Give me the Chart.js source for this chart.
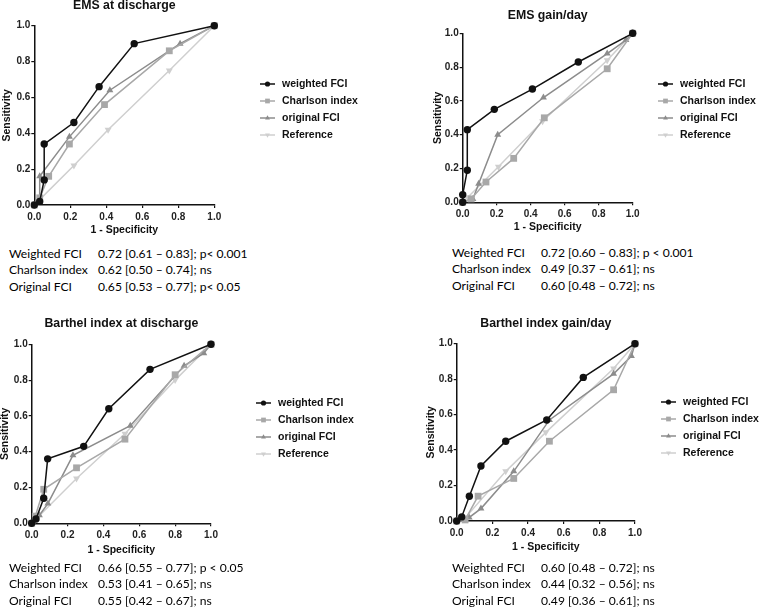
<!doctype html>
<html lang="en">
<head>
<meta charset="utf-8">
<title>ROC curves</title>
<script src="https://cdn.jsdelivr.net/npm/chart.js"></script>
<style>
  body { margin:0; background:#fff; width:778px; height:607px; position:relative; overflow:hidden; }
  canvas { position:absolute; }
  .stats { position:absolute; font-family: Lato, "Open Sans", sans-serif; font-size:12.1px; color:#000; }
  .stats div { position:relative; height:16.8px; line-height:16.8px; white-space:nowrap; }
  .stats span { position:absolute; top:0; }
</style>
</head>
<body>

<canvas id="c1"></canvas>
<canvas id="c2"></canvas>
<canvas id="c3"></canvas>
<canvas id="c4"></canvas>
<div id="s1" class="stats"></div>
<div id="s2" class="stats"></div>
<div id="s3" class="stats"></div>
<div id="s4" class="stats"></div>

<script>
// ---- data (1 - specificity = x, sensitivity = y) ----
const legendNames = ['weighted FCI', 'Charlson index', 'original FCI', 'Reference'];
const statNames = ['Weighted FCI', 'Charlson index', 'Original FCI'];

// EMS at discharge
const emsDisWeightedX = [0, 0.03, 0.055, 0.055, 0.22, 0.36, 0.555, 1];
const emsDisWeightedY = [0, 0.02, 0.14, 0.34, 0.46, 0.66, 0.90, 1];
const emsDisCharlsonX = [0, 0.03, 0.08, 0.195, 0.39, 0.75, 1];
const emsDisCharlsonY = [0, 0.04, 0.16, 0.34, 0.56, 0.86, 1];
const emsDisOriginalX = [0, 0.03, 0.03, 0.195, 0.42, 0.81, 1];
const emsDisOriginalY = [0, 0.02, 0.16, 0.38, 0.64, 0.90, 1];
const emsDisReferenceX = [0, 0.03, 0.22, 0.41, 0.75, 1];
const emsDisReferenceY = [0, 0.03, 0.22, 0.42, 0.75, 1];
const emsDisAuc = ['0.72 [0.61 \u2013 0.83]; p< 0.001', '0.62 [0.50 \u2013 0.74]; ns', '0.65 [0.53 \u2013 0.77]; p< 0.05'];

// EMS gain/day
const emsGainWeightedX = [0, 0, 0.027, 0.027, 0.186, 0.41, 0.68, 1];
const emsGainWeightedY = [0, 0.045, 0.19, 0.43, 0.55, 0.67, 0.83, 1];
const emsGainCharlsonX = [0, 0.05, 0.137, 0.30, 0.48, 0.85, 1];
const emsGainCharlsonY = [0, 0.02, 0.12, 0.26, 0.50, 0.79, 1];
const emsGainOriginalX = [0, 0.06, 0.094, 0.206, 0.475, 0.85, 0.96, 1];
const emsGainOriginalY = [0, 0.02, 0.11, 0.40, 0.62, 0.88, 0.96, 1];
const emsGainReferenceX = [0, 0.03, 0.21, 0.47, 0.85, 1];
const emsGainReferenceY = [0, 0.03, 0.21, 0.48, 0.84, 1];
const emsGainAuc = ['0.72 [0.60 \u2013 0.83]; p < 0.001', '0.49 [0.37 \u2013 0.61]; ns', '0.60 [0.48 \u2013 0.72]; ns'];

// Barthel index at discharge
const barDisWeightedX = [0, 0.024, 0.067, 0.089, 0.29, 0.43, 0.66, 1];
const barDisWeightedY = [0, 0.024, 0.14, 0.36, 0.43, 0.64, 0.86, 1];
const barDisCharlsonX = [0, 0.02, 0.067, 0.25, 0.52, 0.80, 1];
const barDisCharlsonY = [0, 0.04, 0.19, 0.31, 0.47, 0.83, 1];
const barDisOriginalX = [0, 0.043, 0.09, 0.23, 0.55, 0.85, 0.96, 1];
const barDisOriginalY = [0, 0.045, 0.11, 0.38, 0.545, 0.88, 0.95, 1];
const barDisReferenceX = [0, 0.02, 0.25, 0.52, 0.80, 1];
const barDisReferenceY = [0, 0.02, 0.25, 0.50, 0.80, 1];
const barDisAuc = ['0.66 [0.55 \u2013 0.77]; p < 0.05', '0.53 [0.41 \u2013 0.65]; ns', '0.55 [0.42 \u2013 0.67]; ns'];

// Barthel index gain/day
const barGainWeightedX = [0, 0.028, 0.071, 0.136, 0.275, 0.505, 0.71, 1];
const barGainWeightedY = [0, 0.023, 0.14, 0.31, 0.45, 0.57, 0.81, 1];
const barGainCharlsonX = [0, 0.047, 0.12, 0.32, 0.52, 0.88, 1];
const barGainCharlsonY = [0, 0.006, 0.14, 0.24, 0.45, 0.74, 1];
const barGainOriginalX = [0, 0.07, 0.136, 0.32, 0.52, 0.88, 0.98, 1];
const barGainOriginalY = [0, 0.02, 0.07, 0.28, 0.57, 0.83, 0.93, 1];
const barGainReferenceX = [0, 0.05, 0.275, 0.50, 0.88, 1];
const barGainReferenceY = [0, 0.02, 0.28, 0.50, 0.86, 1];
const barGainAuc = ['0.60 [0.48 \u2013 0.72]; ns', '0.44 [0.32 \u2013 0.56]; ns', '0.49 [0.36 \u2013 0.61]; ns'];

const axisTicks = [0, 0.2, 0.4, 0.6, 0.8, 1.0];

// ---- styles ----
const seriesStyle = [
  { color: '#111111', pointStyle: 'circle',   radius: 3.7, rotation: 0 },
  { color: '#a8a8a8', pointStyle: 'rect',     radius: 4.8, rotation: 0 },
  { color: '#8c8c8c', pointStyle: 'triangle', radius: 4,   rotation: 0 },
  { color: '#cfcfcf', pointStyle: 'triangle', radius: 4,   rotation: 180 },
];
const axisFont = 'Liberation Sans, Arial, sans-serif';

// panel layout in page pixels
const panels = [
  { id: 'c1', stats: 's1', title: 'EMS at discharge',
    xs: [emsDisWeightedX, emsDisCharlsonX, emsDisOriginalX, emsDisReferenceX],
    ys: [emsDisWeightedY, emsDisCharlsonY, emsDisOriginalY, emsDisReferenceY], auc: emsDisAuc,
    canvas: { left: 0, top: 0, w: 390, h: 240 }, area: { l: 34.3, t: 25.7, r: 214.3, b: 205 },
    titleY: 5.5, yTitleX: 7, xTitleY: 230, legend: { x: 282, y: 84 }, statPos: { x: 9, vx: 98, y: 254 } },
  { id: 'c2', stats: 's2', title: 'EMS gain/day',
    xs: [emsGainWeightedX, emsGainCharlsonX, emsGainOriginalX, emsGainReferenceX],
    ys: [emsGainWeightedY, emsGainCharlsonY, emsGainOriginalY, emsGainReferenceY], auc: emsGainAuc,
    canvas: { left: 395, top: 0, w: 383, h: 240 }, area: { l: 462.7, t: 33.3, r: 632.7, b: 202.3 },
    titleY: 15, yTitleX: 438, xTitleY: 227, legend: { x: 680, y: 84 }, statPos: { x: 452, vx: 541, y: 253 } },
  { id: 'c3', stats: 's3', title: 'Barthel index at discharge',
    xs: [barDisWeightedX, barDisCharlsonX, barDisOriginalX, barDisReferenceX],
    ys: [barDisWeightedY, barDisCharlsonY, barDisOriginalY, barDisReferenceY], auc: barDisAuc,
    canvas: { left: 0, top: 300, w: 390, h: 262 }, area: { l: 31.7, t: 344.3, r: 211, b: 523.3 },
    titleY: 323, yTitleX: 5, xTitleY: 550, legend: { x: 278, y: 403 }, statPos: { x: 9, vx: 98, y: 568 } },
  { id: 'c4', stats: 's4', title: 'Barthel index gain/day',
    xs: [barGainWeightedX, barGainCharlsonX, barGainOriginalX, barGainReferenceX],
    ys: [barGainWeightedY, barGainCharlsonY, barGainOriginalY, barGainReferenceY], auc: barGainAuc,
    canvas: { left: 395, top: 300, w: 383, h: 262 }, area: { l: 456.7, t: 343.7, r: 635, b: 521 },
    titleY: 323, yTitleX: 431, xTitleY: 547, legend: { x: 683, y: 402 }, statPos: { x: 452, vx: 541, y: 568 } },
];

// legend drawn beside the plot: short line with the marker in its middle
const sideLegend = {
  id: 'sideLegend',
  afterDraw(chart, args, opts) {
    const ctx = chart.ctx;
    ctx.save();
    chart.data.datasets.forEach((ds, i) => {
      const st = seriesStyle[i];
      const y = opts.y + i * 17;
      ctx.strokeStyle = st.color;
      ctx.lineWidth = 1.5;
      ctx.beginPath();
      ctx.moveTo(opts.x - 22, y);
      ctx.lineTo(opts.x - 7, y);
      ctx.stroke();
      ctx.fillStyle = st.color;
      Chart.helpers.drawPoint(ctx, { pointStyle: st.pointStyle, radius: st.radius * 0.7,
        rotation: st.rotation, borderWidth: 0 }, opts.x - 14.5, y);
      ctx.fillStyle = '#111';
      ctx.font = 'bold 10.5px ' + axisFont;
      ctx.textBaseline = 'middle';
      ctx.fillText(ds.label, opts.x, y + 0.5);
    });
    ctx.restore();
  }
};

function makePoints(xs, ys) {
  return xs.map((x, i) => ({ x: x, y: ys[i] }));
}

panels.forEach(p => {
  const c = p.canvas, a = p.area;
  const el = document.getElementById(p.id);
  el.width = c.w; el.height = c.h;
  el.style.left = c.left + 'px'; el.style.top = c.top + 'px';

  const datasets = legendNames.map((name, i) => ({
    label: name,
    data: makePoints(p.xs[i], p.ys[i]),
    showLine: true,
    borderColor: seriesStyle[i].color,
    backgroundColor: seriesStyle[i].color,
    borderWidth: 1.5,
    pointStyle: seriesStyle[i].pointStyle,
    pointRadius: seriesStyle[i].radius,
    pointRotation: seriesStyle[i].rotation,
    pointBorderWidth: 0,
    clip: false,
  }));

  const tickOpts = {
    font: { family: axisFont, size: 10, weight: 'bold' }, color: '#222',
    callback: v => v.toFixed(1),
  };

  new Chart(el, {
    type: 'scatter',
    data: { datasets: datasets },
    options: {
      responsive: false,
      animation: false,
      devicePixelRatio: 1,
      layout: { padding: { left: 0, top: 0, bottom: 0, right: c.left + c.w - a.r } },
      plugins: {
        legend: { display: false },
        tooltip: { enabled: false },
        title: {
          display: true, text: p.title, fullSize: false, color: '#111',
          font: { family: axisFont, size: 12.3, weight: 'bold', lineHeight: 1 },
          padding: { top: p.titleY - c.top - 6, bottom: a.t - p.titleY - 6.3 },
        },
        sideLegend: { x: p.legend.x - c.left, y: p.legend.y - c.top },
      },
      scales: {
        x: {
          type: 'linear', min: 0, max: 1,
          afterBuildTicks: s => { s.ticks = axisTicks.map(v => ({ value: v })); },
          afterFit: s => { s.height = c.top + c.h - a.b; },
          ticks: Object.assign({ padding: 3 }, tickOpts),
          grid: { drawOnChartArea: false, tickLength: 3, color: '#111', lineWidth: 1.2 },
          border: { color: '#111', width: 1.5 },
          title: { display: true, text: '1 - Specificity', color: '#111',
            font: { family: axisFont, size: 10.5, weight: 'bold', lineHeight: 1.2 },
            padding: { top: 0, bottom: c.top + c.h - p.xTitleY - 6.3 } },
        },
        y: {
          type: 'linear', min: 0, max: 1,
          afterBuildTicks: s => { s.ticks = axisTicks.map(v => ({ value: v })); },
          afterFit: s => { s.width = a.l - c.left; },
          ticks: Object.assign({ padding: 1 }, tickOpts),
          grid: { drawOnChartArea: false, tickLength: 3, color: '#111', lineWidth: 1.2 },
          border: { color: '#111', width: 1.5 },
          title: { display: true, text: 'Sensitivity', color: '#111',
            font: { family: axisFont, size: 10.5, weight: 'bold', lineHeight: 1.2 },
            padding: { top: p.yTitleX - c.left - 6.3, bottom: 0 } },
        },
      },
    },
    plugins: [sideLegend],
  });

  // AUC text under each plot
  const box = document.getElementById(p.stats);
  box.style.left = p.statPos.x + 'px';
  box.style.top = (p.statPos.y - 8.4) + 'px';
  statNames.forEach((n, i) => {
    const row = document.createElement('div');
    row.innerHTML = '<span style="left:0">' + n + '</span><span style="left:' +
      (p.statPos.vx - p.statPos.x) + 'px">' + p.auc[i] + '</span>';
    box.appendChild(row);
  });
});
</script>
</body>
</html>
